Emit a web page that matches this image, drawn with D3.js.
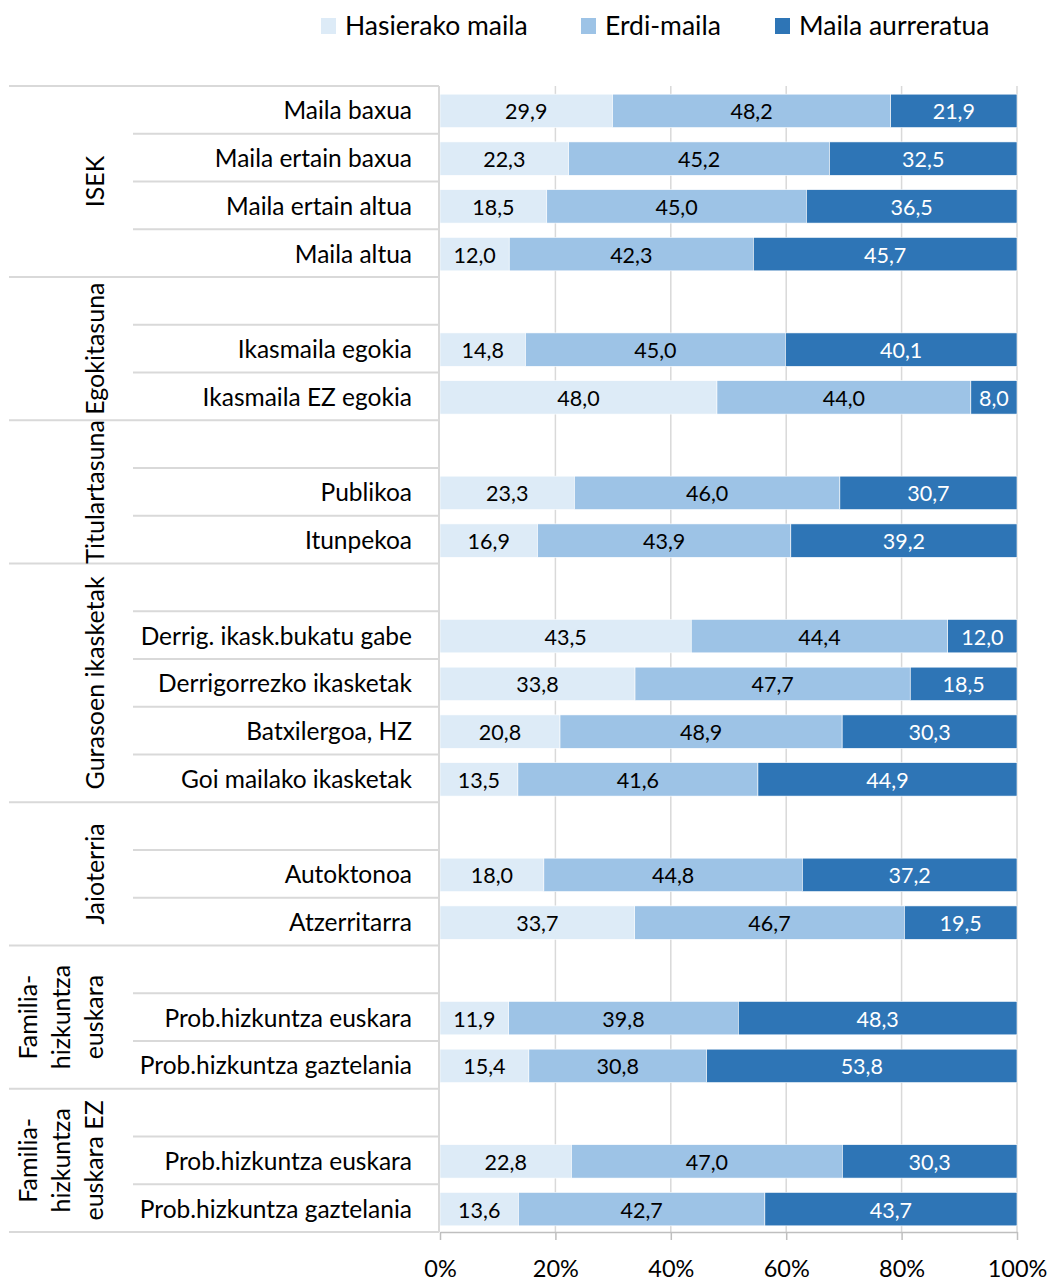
<!DOCTYPE html>
<html>
<head>
<meta charset="utf-8">
<script src="https://cdn.jsdelivr.net/npm/d3@7"></script>
<style>
  body { margin: 0; background: #fff; }
  svg { font-family: Lato, "Open Sans", sans-serif; }
</style>
</head>
<body>
<svg id="chart" width="1050" height="1280"></svg>
<script>
// taldeak eta lerroak
const groupNames = ["ISEK", "Egokitasuna", "Titulartasuna", "Gurasoen ikasketak", "Jaioterria",
  ["Familia-", "hizkuntza", "euskara"], ["Familia-", "hizkuntza", "euskara EZ"]];
const rowGroup = [0,0,0,0, 1,1,1, 2,2,2, 3,3,3,3,3, 4,4,4, 5,5,5, 6,6,6];
const rowLabels = ["Maila baxua", "Maila ertain baxua", "Maila ertain altua", "Maila altua",
  "", "Ikasmaila egokia", "Ikasmaila EZ egokia",
  "", "Publikoa", "Itunpekoa",
  "", "Derrig. ikask.bukatu gabe", "Derrigorrezko ikasketak", "Batxilergoa, HZ", "Goi mailako ikasketak",
  "", "Autoktonoa", "Atzerritarra",
  "", "Prob.hizkuntza euskara", "Prob.hizkuntza gaztelania",
  "", "Prob.hizkuntza euskara", "Prob.hizkuntza gaztelania"];
const hasierakoa = [29.9, 22.3, 18.5, 12.0, null, 14.8, 48.0, null, 23.3, 16.9,
  null, 43.5, 33.8, 20.8, 13.5, null, 18.0, 33.7, null, 11.9, 15.4, null, 22.8, 13.6];
const erdiMaila = [48.2, 45.2, 45.0, 42.3, null, 45.0, 44.0, null, 46.0, 43.9,
  null, 44.4, 47.7, 48.9, 41.6, null, 44.8, 46.7, null, 39.8, 30.8, null, 47.0, 42.7];
const aurreratua = [21.9, 32.5, 36.5, 45.7, null, 40.1, 8.0, null, 30.7, 39.2,
  null, 12.0, 18.5, 30.3, 44.9, null, 37.2, 19.5, null, 48.3, 53.8, null, 30.3, 43.7];
const seriesNames = ["Hasierako maila", "Erdi-maila", "Maila aurreratua"];
const xTicks = [0, 0.2, 0.4, 0.6, 0.8, 1];

const colors = ["#DDEBF7", "#9DC3E6", "#2E75B6"];
const textColors = ["#000", "#000", "#fff"];
const lineColor = "#D9D9D9";

const svg = d3.select("#chart");
const plotTop = 86, plotBottom = 1232, plotLeft = 440, plotRight = 1017;

const idx = d3.range(rowLabels.length);
const y = d3.scaleBand().domain(idx).range([plotTop, plotBottom]).paddingInner(0.3).paddingOuter(0.15);
const x = d3.scaleLinear().domain([0, 1]).range([plotLeft, plotRight]);
const step = y.step();
const rowTop = i => plotTop + i * step;

// sareta
svg.append("g").selectAll("line")
  .data(xTicks.slice(1))
  .join("line")
  .attr("x1", d => x(d)).attr("x2", d => x(d))
  .attr("y1", plotTop).attr("y2", plotBottom)
  .attr("stroke", lineColor).attr("stroke-width", 1.5);

// barrak
const rows = idx.filter(i => hasierakoa[i] !== null).map(i => {
  const vals = [hasierakoa[i], erdiMaila[i], aurreratua[i]];
  const tot = d3.sum(vals);
  let acc = 0;
  return vals.map((v, k) => {
    const s = { row: i, k: k, v: v, x0: acc / tot, x1: (acc + v) / tot };
    acc += v;
    return s;
  });
}).flat();

const bars = svg.append("g");
bars.selectAll("rect")
  .data(rows)
  .join("rect")
  .attr("x", d => x(d.x0))
  .attr("width", d => x(d.x1) - x(d.x0))
  .attr("y", d => y(d.row) + 1)
  .attr("height", y.bandwidth())
  .attr("fill", d => colors[d.k])
  .attr("stroke", "#fff").attr("stroke-width", 0.6);

bars.selectAll("text")
  .data(rows)
  .join("text")
  .attr("x", d => (x(d.x0) + x(d.x1)) / 2)
  .attr("y", d => y(d.row) + y.bandwidth() / 2 + 2)
  .attr("dy", "0.35em")
  .attr("text-anchor", "middle")
  .attr("font-size", 21.5)
  .attr("fill", d => textColors[d.k])
  .text(d => d3.format(".1f")(d.v).replace(".", ","));

// taula lerroak
const sep = svg.append("g").attr("stroke", lineColor).attr("stroke-width", 2);
idx.forEach(i => {
  const isGroupStart = i === 0 || rowGroup[i] !== rowGroup[i - 1];
  sep.append("line")
    .attr("x1", isGroupStart ? 9 : 133).attr("x2", plotLeft - 1)
    .attr("y1", rowTop(i)).attr("y2", rowTop(i));
});
sep.append("line").attr("x1", 9).attr("x2", plotLeft - 1).attr("y1", plotBottom).attr("y2", plotBottom);
sep.append("line").attr("x1", plotLeft - 1).attr("x2", plotLeft - 1).attr("y1", plotTop).attr("y2", plotBottom);

// lerro etiketak
svg.append("g").selectAll("text")
  .data(idx.filter(i => rowLabels[i] !== ""))
  .join("text")
  .attr("x", 412)
  .attr("y", i => rowTop(i) + step / 2 + 1)
  .attr("dy", "0.35em")
  .attr("text-anchor", "end")
  .attr("font-size", 24.5)
  .attr("fill", "#000")
  .text(i => rowLabels[i]);

// talde etiketak (biratuak)
groupNames.forEach((g, gi) => {
  const members = idx.filter(i => rowGroup[i] === gi);
  const cy = (rowTop(members[0]) + rowTop(members[members.length - 1]) + step) / 2;
  const lines = Array.isArray(g) ? g : [g];
  const t = svg.append("text")
    .attr("transform", `translate(${lines.length > 1 ? 28 : 95},${cy}) rotate(-90)`)
    .attr("text-anchor", "middle")
    .attr("font-size", 25)
    .attr("fill", "#000");
  lines.forEach((l, li) => {
    t.append("tspan")
      .attr("x", 0)
      .attr("y", li * 33)
      .attr("dy", "0.35em")
      .text(l);
  });
});

// x ardatza
const xAxis = svg.append("g")
  .attr("transform", `translate(0,${plotBottom})`)
  .call(d3.axisBottom(x).tickValues(xTicks).tickFormat(d3.format(".0%")).tickSize(8).tickSizeOuter(0));
xAxis.select(".domain").attr("stroke", "#BFBFBF").attr("stroke-width", 1.5);
xAxis.selectAll(".tick line").attr("stroke", "#BFBFBF").attr("stroke-width", 1.5);
xAxis.selectAll(".tick text")
  .attr("font-size", 23.5)
  .attr("font-family", "Lato, 'Open Sans', sans-serif")
  .attr("fill", "#000")
  .attr("y", 21)
  .attr("dy", "1em");

// legenda
const legendX = [321, 581, 775];
const legend = svg.append("g").selectAll("g")
  .data(seriesNames)
  .join("g")
  .attr("transform", (d, i) => `translate(${legendX[i]},18)`);
legend.append("rect").attr("width", 15).attr("height", 16).attr("fill", (d, i) => colors[i]);
legend.append("text")
  .attr("x", 24).attr("y", 8).attr("dy", "0.35em")
  .attr("font-size", 26.5)
  .attr("fill", "#000")
  .text(d => d);
</script>
</body>
</html>
